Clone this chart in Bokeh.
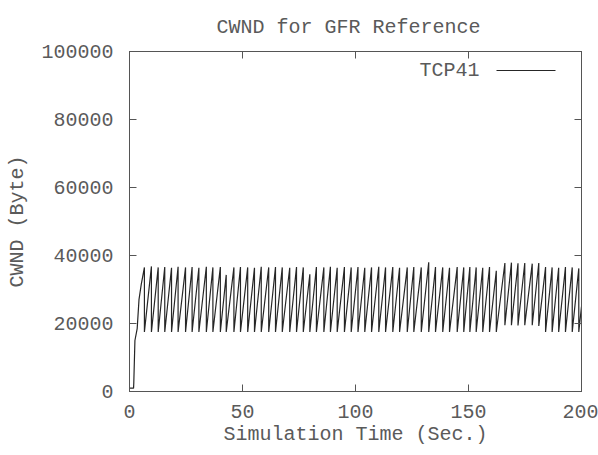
from bokeh.plotting import figure
from bokeh.models import (Range1d, LinearAxis, FixedTicker, Label, Arrow,
                          CustomLabelingPolicy)
from bokeh.embed import file_html
from bokeh.resources import INLINE

# ---- data ----
x_ticks = [0, 50, 100, 150, 200]
x_tick_labels = ["0", "50", "100", "150", "200"]
y_ticks = [0, 20000, 40000, 60000, 80000, 100000]
y_tick_labels = ["0", "20000", "40000", "60000", "80000", "100000"]

# slow-start phase
start_time = [0, 1.8, 1.9, 2.4, 3.4, 4.2, 5.2]
start_cwnd = [1000, 1000, 2500, 15000, 18500, 27000, 31500]

# congestion-avoidance sawtooth: peak before each drop, value right after the drop
peak_time = [6.6, 9.7, 12.7, 15.6, 18.6, 21.5, 24.8, 27.7, 30.7, 34.0,
             36.9, 40.2, 42.8, 46.2, 49.1, 52.3, 55.3, 58.3, 61.6, 64.6,
             67.6, 70.9, 73.9, 76.9, 79.8, 82.7, 86.0, 88.9, 91.9, 95.1,
             98.1, 101.1, 104.1, 107.1, 110.3, 113.3, 116.5, 119.5, 122.9, 125.8,
             129.1, 132.4, 135.4, 138.6, 141.6, 145.0, 147.9, 150.6, 153.4, 156.3,
             159.3, 162.3, 166.1, 169.0, 171.9, 174.9, 178.2, 181.1, 184.1, 187.0,
             189.9, 192.9, 195.9, 198.8]
peak_cwnd = [36500, 36800, 36500, 36600, 36400, 36700, 36500, 36600, 36400, 36700,
             36500, 36600, 34300, 36500, 36600, 36500, 36400, 36700, 36500, 36600,
             36500, 36400, 36600, 36500, 34500, 36600, 36500, 36700, 36400, 36600,
             36500, 36600, 36400, 36500, 36700, 36500, 36600, 36400, 36500, 36600,
             36500, 38000, 36600, 36500, 36400, 36600, 36500, 36600, 36500, 36400,
             36600, 35500, 37800, 37900, 37700, 37800, 37600, 37800, 36600, 36500,
             36400, 36600, 36500, 36200]
trough_cwnd = [17500, 17500, 17500, 17500, 17500, 17500, 17500, 17500, 17500, 17500,
               17500, 17500, 17500, 17500, 17500, 17500, 17500, 17500, 17500, 17500,
               17500, 17500, 17500, 17500, 17500, 17500, 17500, 17500, 17500, 17500,
               17500, 17500, 17500, 17500, 17500, 17500, 17500, 17500, 17500, 17500,
               17500, 17500, 17500, 17500, 17500, 17500, 17500, 17500, 17500, 17500,
               17500, 17500, 19500, 19500, 19400, 19500, 19500, 19300, 17500, 17500,
               17500, 17500, 17500, 17500]

end_time = [200]
end_cwnd = [25000]

series_name = "TCP41"
title_text = "CWND for GFR Reference"

# build the polyline vertex path from the arrays above
xs = list(start_time)
ys = list(start_cwnd)
for t, pk, tr in zip(peak_time, peak_cwnd, trough_cwnd):
    xs += [t, t]
    ys += [pk, tr]
xs += end_time
ys += end_cwnd

FONT = "Liberation Mono"
TXT = "#5a5a5a"
AX = "#555555"

p = figure(width=598, height=455, output_backend="svg", toolbar_location=None,
           x_range=Range1d(0, 200), y_range=Range1d(0, 100000),
           x_axis_type=None, y_axis_type=None,
           min_border_left=129, min_border_right=17,
           min_border_top=51, min_border_bottom=64)
p.background_fill_color = "white"
p.border_fill_color = "white"
p.outline_line_color = AX
p.outline_line_width = 1

p.line(xs, ys, line_color="#262626", line_width=1.2)


def style_axis(ax, size="20px"):
    ax.major_tick_in = 7
    ax.major_tick_out = 0
    ax.minor_tick_line_color = None
    ax.axis_line_color = AX
    ax.major_tick_line_color = AX
    ax.major_label_text_font = FONT
    ax.major_label_text_color = TXT
    ax.major_label_text_font_size = size
    ax.axis_label_text_font = FONT
    ax.axis_label_text_color = TXT
    ax.axis_label_text_font_style = "normal"
    ax.axis_label_text_font_size = "20px"


bottom = LinearAxis(ticker=FixedTicker(ticks=x_ticks),
                    major_label_overrides=dict(zip(x_ticks, x_tick_labels)),
                    axis_label="Simulation Time (Sec.)")
style_axis(bottom)
bottom.major_label_standoff = 13
bottom.axis_label_standoff = 2
p.add_layout(bottom, "below")

left = LinearAxis(ticker=FixedTicker(ticks=y_ticks),
                  major_label_overrides=dict(zip(y_ticks, y_tick_labels)),
                  axis_label="CWND (Byte)")
style_axis(left)
left.major_label_standoff = 16
left.axis_label_standoff = 9
p.add_layout(left, "left")

# mirrored tick marks on the top and right sides, without labels
top = LinearAxis(ticker=FixedTicker(ticks=x_ticks),
                 major_label_policy=CustomLabelingPolicy(code="return new Set()"))
style_axis(top, "0px")
top.major_label_standoff = 0
p.add_layout(top, "above")

right = LinearAxis(ticker=FixedTicker(ticks=y_ticks),
                   major_label_policy=CustomLabelingPolicy(code="return new Set()"))
style_axis(right, "0px")
right.major_label_standoff = 0
p.add_layout(right, "right")

p.title.text = title_text
p.title.align = "left"
p.title.offset = 87
p.title.text_font = FONT
p.title.text_font_size = "20px"
p.title.text_font_style = "normal"
p.title.text_color = TXT
p.title.standoff = 26

# legend: label text on the left, line sample on the right (gnuplot style)
p.add_layout(Label(x=350, y=321, x_units="screen", y_units="screen",
                   text=series_name, text_font=FONT, text_font_size="20px",
                   text_color=TXT, text_align="right", text_baseline="middle"))
p.add_layout(Arrow(x_start=367, y_start=321, x_end=426, y_end=321,
                   start_units="screen", end_units="screen", end=None,
                   line_color="#262626", line_width=1.2))

open("out.html", "w").write(file_html(p, INLINE))
